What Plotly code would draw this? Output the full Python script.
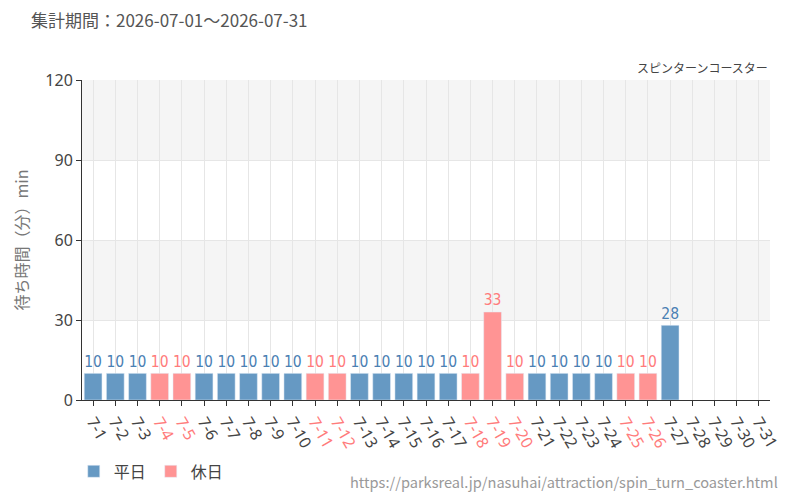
import plotly.graph_objects as go

dates = [f"7-{d}" for d in range(1, 32)]
values = [10, 10, 10, 10, 10, 10, 10, 10, 10, 10, 10, 10, 10, 10, 10, 10, 10, 10, 33, 10,
          10, 10, 10, 10, 10, 10, 28, None, None, None, None]
holidays = ["7-4", "7-5", "7-11", "7-12", "7-18", "7-19", "7-20", "7-25", "7-26"]

WEEKDAY = "#6699c3"
HOLIDAY = "#ff9494"
WD_TEXT = "#4a80b3"
HD_TEXT = "#ff7b7b"
LABEL_FONT = "DejaVu Sans Condensed, Liberation Sans Narrow, Roboto"

wd_vals = [v if d not in holidays else None for d, v in zip(dates, values)]
hd_vals = [v if d in holidays else None for d, v in zip(dates, values)]

fig = go.Figure()
fig.add_trace(go.Bar(x=dates, y=wd_vals, name="平日", marker_color=WEEKDAY,
                     text=[str(v) if v is not None else "" for v in wd_vals],
                     textposition="outside", cliponaxis=False,
                     textfont=dict(color=WD_TEXT, size=17, family=LABEL_FONT)))
fig.add_trace(go.Bar(x=dates, y=hd_vals, name="休日", marker_color=HOLIDAY,
                     text=[str(v) if v is not None else "" for v in hd_vals],
                     textposition="outside", cliponaxis=False,
                     textfont=dict(color=HD_TEXT, size=17, family=LABEL_FONT)))

for y0, y1 in [(30, 60), (90, 120)]:
    fig.add_shape(type="rect", xref="paper", yref="y", x0=0, x1=1, y0=y0, y1=y1,
                  fillcolor="#f5f5f5", line_width=0, layer="below")

ticktext = [f"<span style='color:{HD_TEXT}'>{d}</span>" if d in holidays else d for d in dates]

fig.update_layout(
    width=800, height=500,
    margin=dict(l=82, r=30, t=80, b=100),
    plot_bgcolor="white", paper_bgcolor="white",
    barmode="overlay", bargap=0.2,
    font=dict(family="Noto Sans CJK JP, Noto Sans", color="#555"),
    showlegend=True,
    legend=dict(orientation="h", x=-0.012, xanchor="left", y=-0.17, yanchor="top",
                font=dict(size=16, color="#444"), itemwidth=30),
    xaxis=dict(tickmode="array", tickvals=dates, ticktext=ticktext, tickangle=60,
               showgrid=True, gridcolor="#e6e6e6", ticks="outside", ticklen=5,
               tickcolor="#333", showline=True, linecolor="#333",
               tickfont=dict(size=16, color="#444", family="Noto Sans"),
               range=[-0.5, 30.5]),
    yaxis=dict(range=[0, 120], tickvals=[0, 30, 60, 90, 120], showgrid=True,
               gridcolor="#e6e6e6", ticks="outside", ticklen=5, tickcolor="#333",
               showline=True, linecolor="#333", zeroline=False,
               tickfont=dict(size=16, color="#444", family="Noto Sans"),
               title=dict(text="待ち時間（分）min", font=dict(size=16, color="#777"), standoff=12)),
    annotations=[
        dict(text="集計期間：2026-07-01～2026-07-31", xref="paper", yref="paper",
             x=-0.077, y=1.19, xanchor="left", yanchor="middle", showarrow=False,
             font=dict(size=17, color="#555")),
        dict(text="スピンターンコースター", xref="paper", yref="paper",
             x=1, y=1.005, xanchor="right", yanchor="bottom", showarrow=False,
             font=dict(size=12, color="#444")),
        dict(text="https://parksreal.jp/nasuhai/attraction/spin_turn_coaster.html",
             xref="paper", yref="paper", x=1.015, y=-0.255, xanchor="right",
             yanchor="middle", showarrow=False, font=dict(size=14.6, color="#999")),
    ],
)

fig.write_html("out.html")
